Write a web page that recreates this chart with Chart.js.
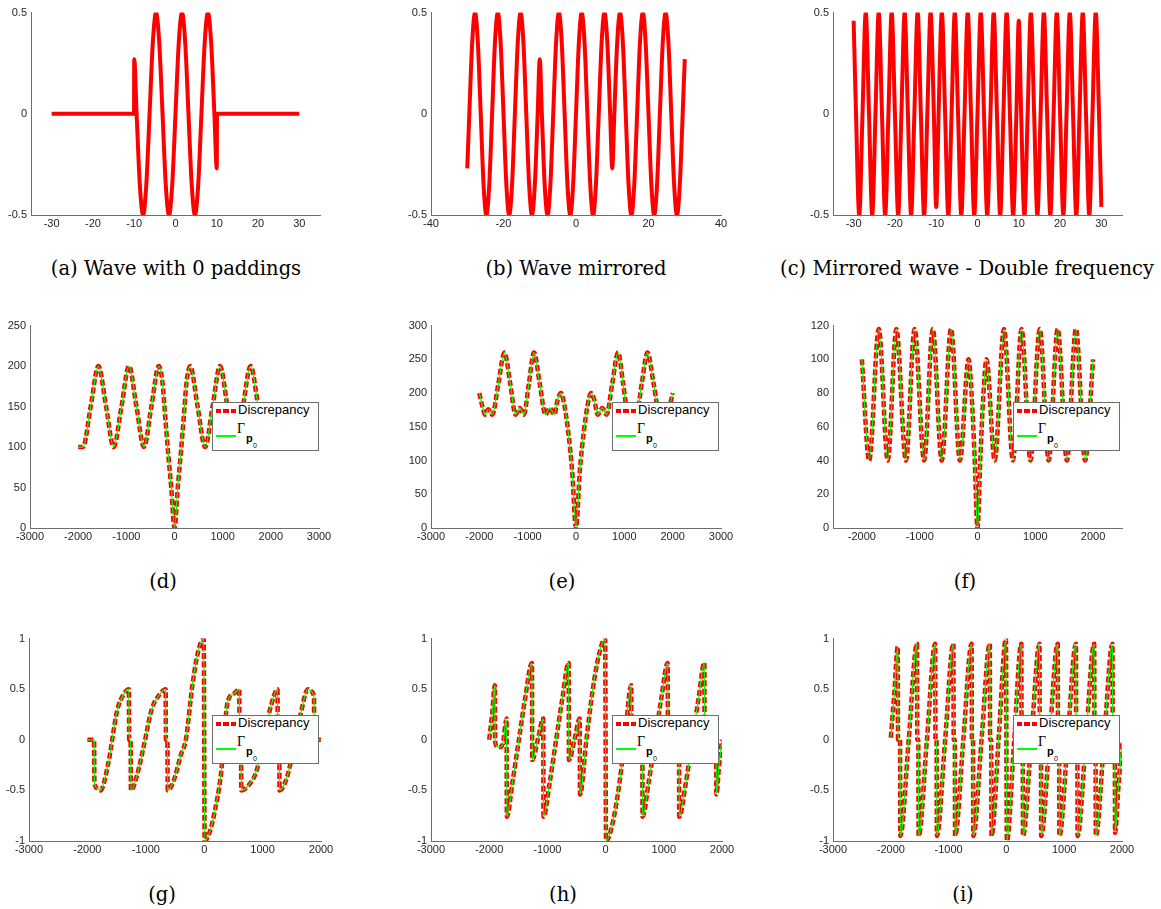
<!DOCTYPE html>
<html>
<head>
<meta charset="utf-8">
<script src="https://cdn.jsdelivr.net/npm/chart.js"></script>
<style>
  body { margin: 0; background: #fff; width: 1161px; height: 909px; position: relative; overflow: hidden; }
  canvas { position: absolute; }
  .cap { position: absolute; font-family: "DejaVu Serif", serif; font-size: 19.5px; color: #000; white-space: nowrap; transform: translate(-50%, -50%); }
  .leg { position: absolute; width: 107px; height: 49px; box-sizing: border-box; border: 1px solid #6e6e6e; background: #fff; }
  .leg span { position: absolute; white-space: nowrap; color: #000; }
  .leg .ld { left: 3px; top: 6px; width: 21px; height: 4px; background: repeating-linear-gradient(90deg, #f00 0 5.5px, transparent 5.5px 7.5px); }
  .leg .lt { left: 25px; top: 0px; font: 13px/13px "Liberation Sans", sans-serif; }
  .leg .lg { left: 3px; top: 32px; width: 20px; height: 1.5px; background: #00ff00; }
  .leg .gm { left: 24px; top: 19px; font: 14px/14px "Liberation Serif", serif; }
  .leg .gp { left: 33px; top: 30px; font: bold 11px/11px "Liberation Sans", sans-serif; }
  .leg .g0 { left: 40px; top: 39px; font: 7px/7px "Liberation Sans", sans-serif; }
</style>
</head>
<body>
<script>
// (a) wave with 0 paddings
const aX = [-30,-10.05,-10,-9.42,-8.64,-7.85,-7.07,-6.28,-5.5,-4.71,-3.93,-3.14,-2.36,-1.57,-0.79,0,0.79,1.57,2.36,3.14,3.93,4.71,5.5,6.28,7.07,7.85,8.64,9.42,10,10.05,30];
const aY = [0,0,0.27,0,-0.35,-0.5,-0.35,0,0.35,0.5,0.35,0,-0.35,-0.5,-0.35,0,0.35,0.5,0.35,0,-0.35,-0.5,-0.35,0,0.35,0.5,0.35,0,-0.27,0,0];

// (b) wave mirrored
const bX = [-30,-29.43,-28.64,-27.85,-27.07,-26.28,-25.5,-24.71,-23.93,-23.14,-22.36,-21.57,-20.79,-20,-19.21,-18.43,-17.64,-16.86,-16.07,-15.29,-14.5,-13.72,-12.93,-12.15,-11.36,-10.57,-10,
  -9.42,-8.64,-7.85,-7.07,-6.28,-5.5,-4.71,-3.93,-3.14,-2.36,-1.57,-0.79,0,0.79,1.57,2.36,3.14,3.93,4.71,5.5,6.28,7.07,7.85,8.64,9.42,10,
  10.57,11.36,12.15,12.93,13.72,14.5,15.29,16.07,16.86,17.64,18.43,19.21,20,20.79,21.57,22.36,23.14,23.93,24.71,25.5,26.28,27.07,27.85,28.64,29.43,30];
const bY = [-0.27,0,0.35,0.5,0.35,0,-0.35,-0.5,-0.35,0,0.35,0.5,0.35,0,-0.35,-0.5,-0.35,0,0.35,0.5,0.35,0,-0.35,-0.5,-0.35,0,0.27,
  0,-0.35,-0.5,-0.35,0,0.35,0.5,0.35,0,-0.35,-0.5,-0.35,0,0.35,0.5,0.35,0,-0.35,-0.5,-0.35,0,0.35,0.5,0.35,0,-0.27,
  0,0.35,0.5,0.35,0,-0.35,-0.5,-0.35,0,0.35,0.5,0.35,0,-0.35,-0.5,-0.35,0,0.35,0.5,0.35,0,-0.35,-0.5,-0.35,0,0.27];

// (c) mirrored wave, double frequency
const cX = [-30,-29.43,-28.64,-27.85,-27.07,-26.28,-25.5,-24.71,-23.93,-23.14,-22.36,-21.57,-20.79,-20,-19.21,-18.43,-17.64,-16.86,-16.07,-15.29,-14.5,-13.72,-12.93,-12.15,-11.36,-10.57,-10,
  -9.42,-8.64,-7.85,-7.07,-6.28,-5.5,-4.71,-3.93,-3.14,-2.36,-1.57,-0.79,0,0.79,1.57,2.36,3.14,3.93,4.71,5.5,6.28,7.07,7.85,8.64,9.42,10,
  10.57,11.36,12.15,12.93,13.72,14.5,15.29,16.07,16.86,17.64,18.43,19.21,20,20.79,21.57,22.36,23.14,23.93,24.71,25.5,26.28,27.07,27.85,28.64,29.43,30];
const cY = [0.46,0,-0.5,0,0.5,0,-0.5,0,0.5,0,-0.5,0,0.5,0,-0.5,0,0.5,0,-0.5,0,0.5,0,-0.5,0,0.5,0,-0.46,
  0,0.5,0,-0.5,0,0.5,0,-0.5,0,0.5,0,-0.5,0,0.5,0,-0.5,0,0.5,0,-0.5,0,0.5,0,-0.5,0,0.46,
  0,-0.5,0,0.5,0,-0.5,0,0.5,0,-0.5,0,0.5,0,-0.5,0,0.5,0,-0.5,0,0.5,0,-0.5,0,0.5,0,-0.46];

// (d)
const dX = [-2000,-1900,-1740,-1580,-1420,-1265,-1100,-945,-790,-635,-480,-325,-250,-187,-131,-69,0,69,131,187,250,325,480,635,790,945,1100,1265,1420,1580,1740,1900,2000];
const dY = [100,100,150,200,150,100,150,200,150,100,150,200,180,133,92,51,0,51,92,133,180,200,150,100,150,200,150,100,150,200,150,100,100];

// (e)
const eX = [-2000,-1940,-1883,-1814,-1732,-1606,-1480,-1360,-1251,-1162,-1079,-975,-870,-750,-632,-543,-447,-380,-310,-240,-160,-80,0,
  80,160,240,310,380,447,543,632,750,870,975,1079,1162,1251,1360,1480,1606,1732,1814,1883,1940,2000];
const eY = [200,181,168,176,168,214,260,214,168,178,168,214,260,214,168,178,168,190,200,182,142,85,0,
  85,142,182,200,190,168,178,168,214,260,214,168,178,168,214,260,214,168,176,168,181,200];

// (f)
const fX = [-2000,-1874,-1708,-1553,-1404,-1238,-1089,-923,-774,-619,-458,-304,-155,-100,-50,0,50,100,155,298,458,613,762,917,1077,1232,1387,1547,1702,1862,2000];
const fY = [100,40,118,40,118,40,118,40,118,40,118,40,100,78,42,0,42,78,100,40,118,40,118,40,118,40,118,40,118,40,100];

// (g)
const gX = [-2000,-1885,-1880,-1830,-1777,-1645,-1490,-1380,-1290,-1285,-1260,-1255,-1150,-1030,-900,-760,-660,-655,-630,-625,-520,-400,-315,-200,-100,-8,
  8,100,172,287,400,515,600,605,630,635,760,900,1030,1150,1255,1260,1285,1290,1400,1530,1650,1777,1830,1880,1885,2000];
const gY = [0,0,-0.42,-0.48,-0.5,-0.24,0.29,0.45,0.5,0,0,-0.5,-0.35,-0.05,0.3,0.45,0.5,0,0,-0.5,-0.4,-0.15,0,0.55,0.88,1,
  -1,-0.9,-0.73,-0.34,0.37,0.46,0.5,0,0,-0.5,-0.45,-0.3,0.05,0.35,0.5,0,0,-0.5,-0.4,-0.1,0.25,0.5,0.48,0.42,0,0];

// (h)
const hX = [-2000,-1950,-1903,-1898,-1850,-1800,-1760,-1702,-1697,-1600,-1490,-1380,-1265,-1260,-1165,-1072,-1067,-960,-850,-740,-635,-630,-535,-445,-440,-330,-220,-110,-8,
  8,110,220,330,440,445,535,630,635,740,850,960,1067,1072,1165,1260,1265,1380,1490,1600,1697,1702,1760,1800,1850,1898,1903,1950,2000];
const hY = [0,0.25,0.54,-0.02,-0.07,-0.07,-0.02,0.21,-0.76,-0.42,0,0.42,0.76,-0.2,0,0.21,-0.76,-0.42,0,0.42,0.76,-0.2,0,0.21,-0.54,0,0.5,0.85,1,
  -1,-0.85,-0.5,0,0.54,-0.21,0,0.2,-0.76,-0.42,0,0.42,0.76,-0.21,0,0.2,-0.76,-0.42,0,0.42,0.76,-0.21,0.02,0.07,0.07,0.02,-0.54,-0.25,0];

// (i)
const iX = [-2000,-1940,-1880,-1875,-1840,-1835,-1690,-1547,-1542,-1524,-1519,-1375,-1232,-1227,-1208,-1203,-1060,-917,-912,-893,-888,-745,-602,-597,-578,-573,-430,-287,-282,-263,-258,-130,-8,
  8,130,258,263,282,287,430,573,578,597,602,745,888,893,912,917,1060,1203,1208,1227,1232,1375,1519,1524,1542,1547,1690,1835,1840,1875,1880,1940,2000];
const iY = [0.02,0.45,0.92,0,0,-0.95,0,0.95,0,0,-0.95,0,0.95,0,0,-0.95,0,0.95,0,0,-0.95,0,0.95,0,0,-0.95,0,0.95,0,0,-0.95,0.05,1,
  -1,-0.05,0.95,0,0,-0.95,0,0.95,0,0,-0.95,0,0.95,0,0,-0.95,0,0.95,0,0,-0.95,0,0.95,0,0,-0.95,0,0.95,0,0,-0.92,-0.45,-0.02];

// tick values
const xTicksA = [-30,-20,-10,0,10,20,30];
const xTicksB = [-40,-20,0,20,40];
const xTicksDE = [-3000,-2000,-1000,0,1000,2000,3000];
const xTicksF = [-2000,-1000,0,1000,2000];
const xTicksGHI = [-3000,-2000,-1000,0,1000,2000];
const yTicksABC = [-0.5,0,0.5];
const yTicksD = [0,50,100,150,200,250];
const yTicksE = [0,50,100,150,200,250,300];
const yTicksF = [0,20,40,60,80,100,120];
const yTicksGHI = [-1,-0.5,0,0.5,1];

const captions = ["(a) Wave with 0 paddings", "(b) Wave mirrored", "(c) Mirrored wave - Double frequency",
  "(d)", "(e)", "(f)", "(g)", "(h)", "(i)"];

// plot boxes [left, top, right, bottom] in page pixels
const panels = [
  {box:[31,12,320,215],   x:aX, y:aY, xr:[-35,35],     xt:xTicksA,   yr:[-0.5,0.5], yt:yTicksABC, leg:false, cap:[176,268]},
  {box:[431,12,721,215],  x:bX, y:bY, xr:[-40,40],     xt:xTicksB,   yr:[-0.5,0.5], yt:yTicksABC, leg:false, cap:[576,268]},
  {box:[833,12,1122,215], x:cX, y:cY, xr:[-35,35],     xt:xTicksA,   yr:[-0.5,0.5], yt:yTicksABC, leg:false, cap:[967,268]},
  {box:[30,325,319,528],  x:dX, y:dY, xr:[-3000,3000], xt:xTicksDE,  yr:[0,250],    yt:yTicksD,   leg:[212,402], cap:[163,581]},
  {box:[431,325,721,528], x:eX, y:eY, xr:[-3000,3000], xt:xTicksDE,  yr:[0,300],    yt:yTicksE,   leg:[612,402], cap:[562,581]},
  {box:[833,325,1122,528],x:fX, y:fY, xr:[-2500,2500], xt:xTicksF,   yr:[0,120],    yt:yTicksF,   leg:[1013,402], cap:[965,581]},
  {box:[29,638,321,841],  x:gX, y:gY, xr:[-3000,2000], xt:xTicksGHI, yr:[-1,1],     yt:yTicksGHI, leg:[212,715], cap:[162,894]},
  {box:[431,638,722,841], x:hX, y:hY, xr:[-3000,2000], xt:xTicksGHI, yr:[-1,1],     yt:yTicksGHI, leg:[612,715], cap:[563,894]},
  {box:[833,638,1122,841],x:iX, y:iY, xr:[-3000,2000], xt:xTicksGHI, yr:[-1,1],     yt:yTicksGHI, leg:[1013,715], cap:[963,894]}
];

const M = {l:45, t:10, r:25, b:25};
const tickFont = {family: "Liberation Sans", size: 11};

function pts(xs, ys) {
  return xs.map(function(x, i) { return {x: x, y: ys[i]}; });
}

function addChart(p) {
  var c = document.createElement("canvas");
  var w = p.box[2] - p.box[0] + M.l + M.r;
  var h = p.box[3] - p.box[1] + M.t + M.b;
  c.width = w; c.height = h;
  c.style.left = (p.box[0] - M.l) + "px";
  c.style.top = (p.box[1] - M.t) + "px";
  c.style.width = w + "px";
  c.style.height = h + "px";
  document.body.appendChild(c);

  var sets = [{
    label: p.leg ? "Discrepancy" : "wave",
    data: pts(p.x, p.y),
    borderColor: "#ff0000",
    borderWidth: p.leg ? 4.5 : 4,
    borderDash: p.leg ? [6, 2.5] : [],
    borderJoinStyle: "round",
    cubicInterpolationMode: "monotone",
    pointRadius: 0,
    clip: 0,
    order: 2
  }];
  if (p.leg) {
    sets.push({
      label: "Γp0",
      data: pts(p.x, p.y),
      borderColor: "#00ff00",
      borderWidth: 1.2,
      cubicInterpolationMode: "monotone",
      pointRadius: 0,
      clip: 0,
      order: 1
    });
  }

  new Chart(c, {
    type: "line",
    data: {datasets: sets},
    options: {
      responsive: false,
      animation: false,
      devicePixelRatio: 1,
      layout: {padding: {left: 0, top: M.t, right: M.r, bottom: 0}},
      plugins: {legend: {display: false}, tooltip: {enabled: false}},
      scales: {
        x: {
          type: "linear", min: p.xr[0], max: p.xr[1],
          grid: {display: false, drawTicks: false},
          border: {display: true, color: "#6e6e6e", width: 1},
          ticks: {font: tickFont, color: "#262626", padding: 2, maxRotation: 0, autoSkip: false,
                  callback: function(v) { return String(v); }},
          afterBuildTicks: function(s) { s.ticks = p.xt.map(function(v) { return {value: v}; }); },
          afterFit: function(s) { s.height = M.b; }
        },
        y: {
          type: "linear", min: p.yr[0], max: p.yr[1],
          grid: {display: false, drawTicks: false},
          border: {display: true, color: "#6e6e6e", width: 1},
          ticks: {font: tickFont, color: "#262626", padding: 4,
                  callback: function(v) { return String(v); }},
          afterBuildTicks: function(s) { s.ticks = p.yt.map(function(v) { return {value: v}; }); },
          afterFit: function(s) { s.width = M.l; }
        }
      }
    }
  });

  if (p.leg) {
    var d = document.createElement("div");
    d.className = "leg";
    d.style.left = p.leg[0] + "px";
    d.style.top = p.leg[1] + "px";
    d.innerHTML = '<span class="ld"></span><span class="lt">Discrepancy</span>' +
      '<span class="lg"></span><span class="gm">Γ</span><span class="gp">p</span><span class="g0">0</span>';
    document.body.appendChild(d);
  }
}

panels.forEach(function(p, i) {
  addChart(p);
  var t = document.createElement("div");
  t.className = "cap";
  t.style.left = p.cap[0] + "px";
  t.style.top = p.cap[1] + "px";
  t.textContent = captions[i];
  document.body.appendChild(t);
});
</script>
</body>
</html>
